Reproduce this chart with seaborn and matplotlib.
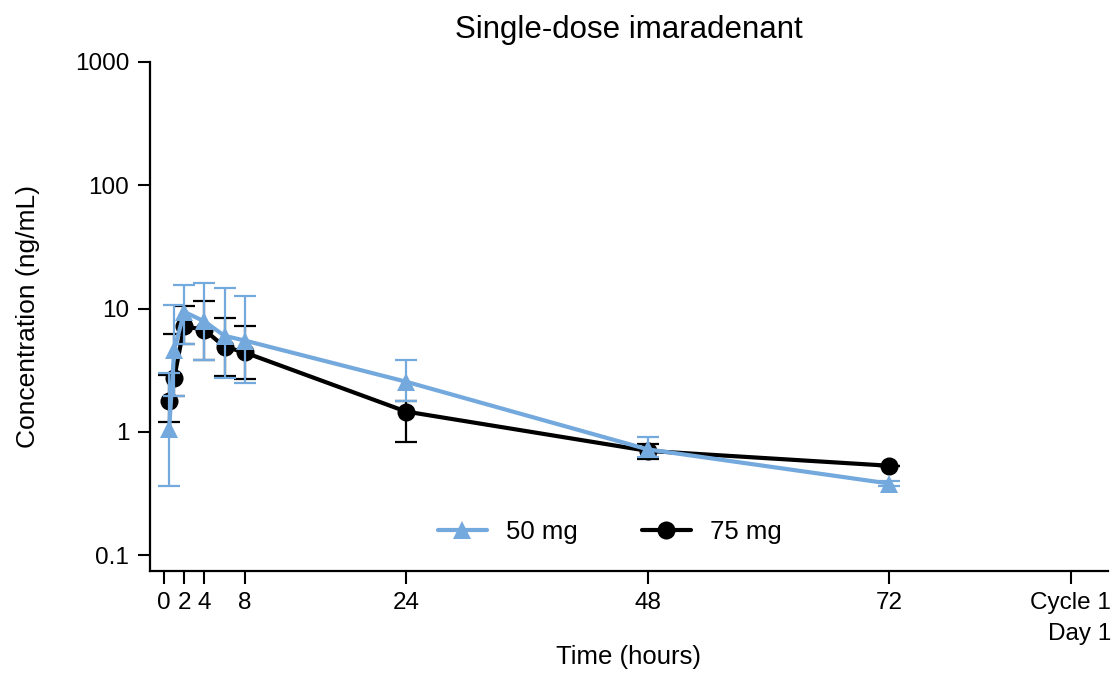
import numpy as np
import pandas as pd
import matplotlib
matplotlib.use("Agg")
import matplotlib.pyplot as plt
import matplotlib.ticker as mticker
import seaborn as sns

# ---- data ----
time_50 = [0.5, 1, 2, 4, 6, 8, 24, 48, 72]
conc_50 = [1.05, 4.6, 9.4, 7.85, 6.0, 5.5, 2.55, 0.72, 0.38]
lo_50 = [0.36, 1.96, 5.15, 3.79, 2.73, 2.48, 1.78, 0.62, 0.36]
hi_50 = [3.0, 10.7, 15.6, 16.2, 14.6, 12.7, 3.79, 0.91, 0.40]

time_75 = [0.5, 1, 2, 4, 6, 8, 24, 48, 72]
conc_75 = [1.78, 2.74, 7.2, 6.7, 4.9, 4.4, 1.46, 0.70, 0.53]
lo_75 = [1.21, 1.95, 5.2, 3.8, 2.85, 2.67, 0.83, 0.60, 0.53]
hi_75 = [2.9, 6.2, 10.4, 11.5, 8.4, 7.2, 1.78, 0.80, 0.53]

x_ticks = [0, 2, 4, 8, 24, 48, 72, 90]
x_ticklabels = ["0", "2", "4", "8", "24", "48", "72", "Cycle 1\nDay 1"]
y_ticks = [0.1, 1, 10, 100, 1000]
y_ticklabels = ["0.1", "1", "10", "100", "1000"]

series_names = ["50 mg", "75 mg"]
colors = {"50 mg": "#74A9DD", "75 mg": "#000000"}
markers = {"50 mg": "^", "75 mg": "o"}
msizes = {"50 mg": 12.5, "75 mg": 13}

df = pd.concat([
    pd.DataFrame({"time": time_50, "conc": conc_50, "dose": "50 mg"}),
    pd.DataFrame({"time": time_75, "conc": conc_75, "dose": "75 mg"}),
])

sns.set_style("ticks")
plt.rcParams["font.family"] = ["Liberation Sans", "DejaVu Sans"]
plt.rcParams["text.color"] = "black"
plt.rcParams["axes.labelcolor"] = "black"

fig = plt.figure(figsize=(11.16, 6.77), dpi=100)
ax = fig.add_axes([150 / 1116, 1 - 571 / 677, (1108 - 150) / 1116, (571 - 62) / 677])

# error bars
for name, t, c, lo, hi, z in [("75 mg", time_75, conc_75, lo_75, hi_75, 2),
                              ("50 mg", time_50, conc_50, lo_50, hi_50, 4)]:
    c = np.array(c); lo = np.array(lo); hi = np.array(hi)
    ax.errorbar(t, c, yerr=[c - lo, hi - c], fmt="none", ecolor=colors[name],
                elinewidth=1.6, capsize=8, capthick=1.6, zorder=z)

# lines with markers (black first, blue on top)
for name, z in [("75 mg", 3), ("50 mg", 5)]:
    sub = df[df["dose"] == name]
    sns.lineplot(data=sub, x="time", y="conc", ax=ax, color=colors[name],
                 marker=markers[name], markersize=msizes[name],
                 markeredgewidth=0, linewidth=3.0, label=name, zorder=z,
                 estimator=None, sort=False)

ax.set_yscale("log")
ax.set_ylim(0.0742, 1000)
ax.set_xlim(-1.4, 93.7)
ax.set_yticks(y_ticks)
ax.set_yticklabels(y_ticklabels)
ax.yaxis.set_minor_locator(mticker.NullLocator())
ax.set_xticks(x_ticks)
ax.set_xticklabels(x_ticklabels, multialignment="right", linespacing=1.55)

for s in ["top", "right"]:
    ax.spines[s].set_visible(False)
for s in ["left", "bottom"]:
    ax.spines[s].set_linewidth(1.6)
    ax.spines[s].set_color("black")

ax.tick_params(axis="both", which="major", direction="out", length=9, width=1.5,
               color="black", labelsize=17.5, labelcolor="black", pad=6)

ax.set_xlabel("Time (hours)", fontsize=18.5, color="black")
ax.xaxis.label.set_va("center")
ax.xaxis.set_label_coords(0.5, (571 - 657) / 509)
ax.set_ylabel("Concentration (ng/mL)", fontsize=19, color="black")
ax.yaxis.label.set_va("center")
ax.yaxis.set_label_coords((28 - 150) / 958, 0.5)
ax.set_title("Single-dose imaradenant", fontsize=22.5, pad=17, color="black")

# legend order: 50 mg, 75 mg
handles, labels = ax.get_legend_handles_labels()
order = [labels.index(n) for n in series_names]
leg = ax.legend([handles[i] for i in order], [labels[i] for i in order],
                loc="center", bbox_to_anchor=(0.48, 0.077), ncol=2, frameon=False,
                fontsize=18.5, handlelength=1.9, handletextpad=0.75, columnspacing=2.5)
for txt in leg.get_texts():
    txt.set_color("black")

fig.savefig("out.png", dpi=100)
